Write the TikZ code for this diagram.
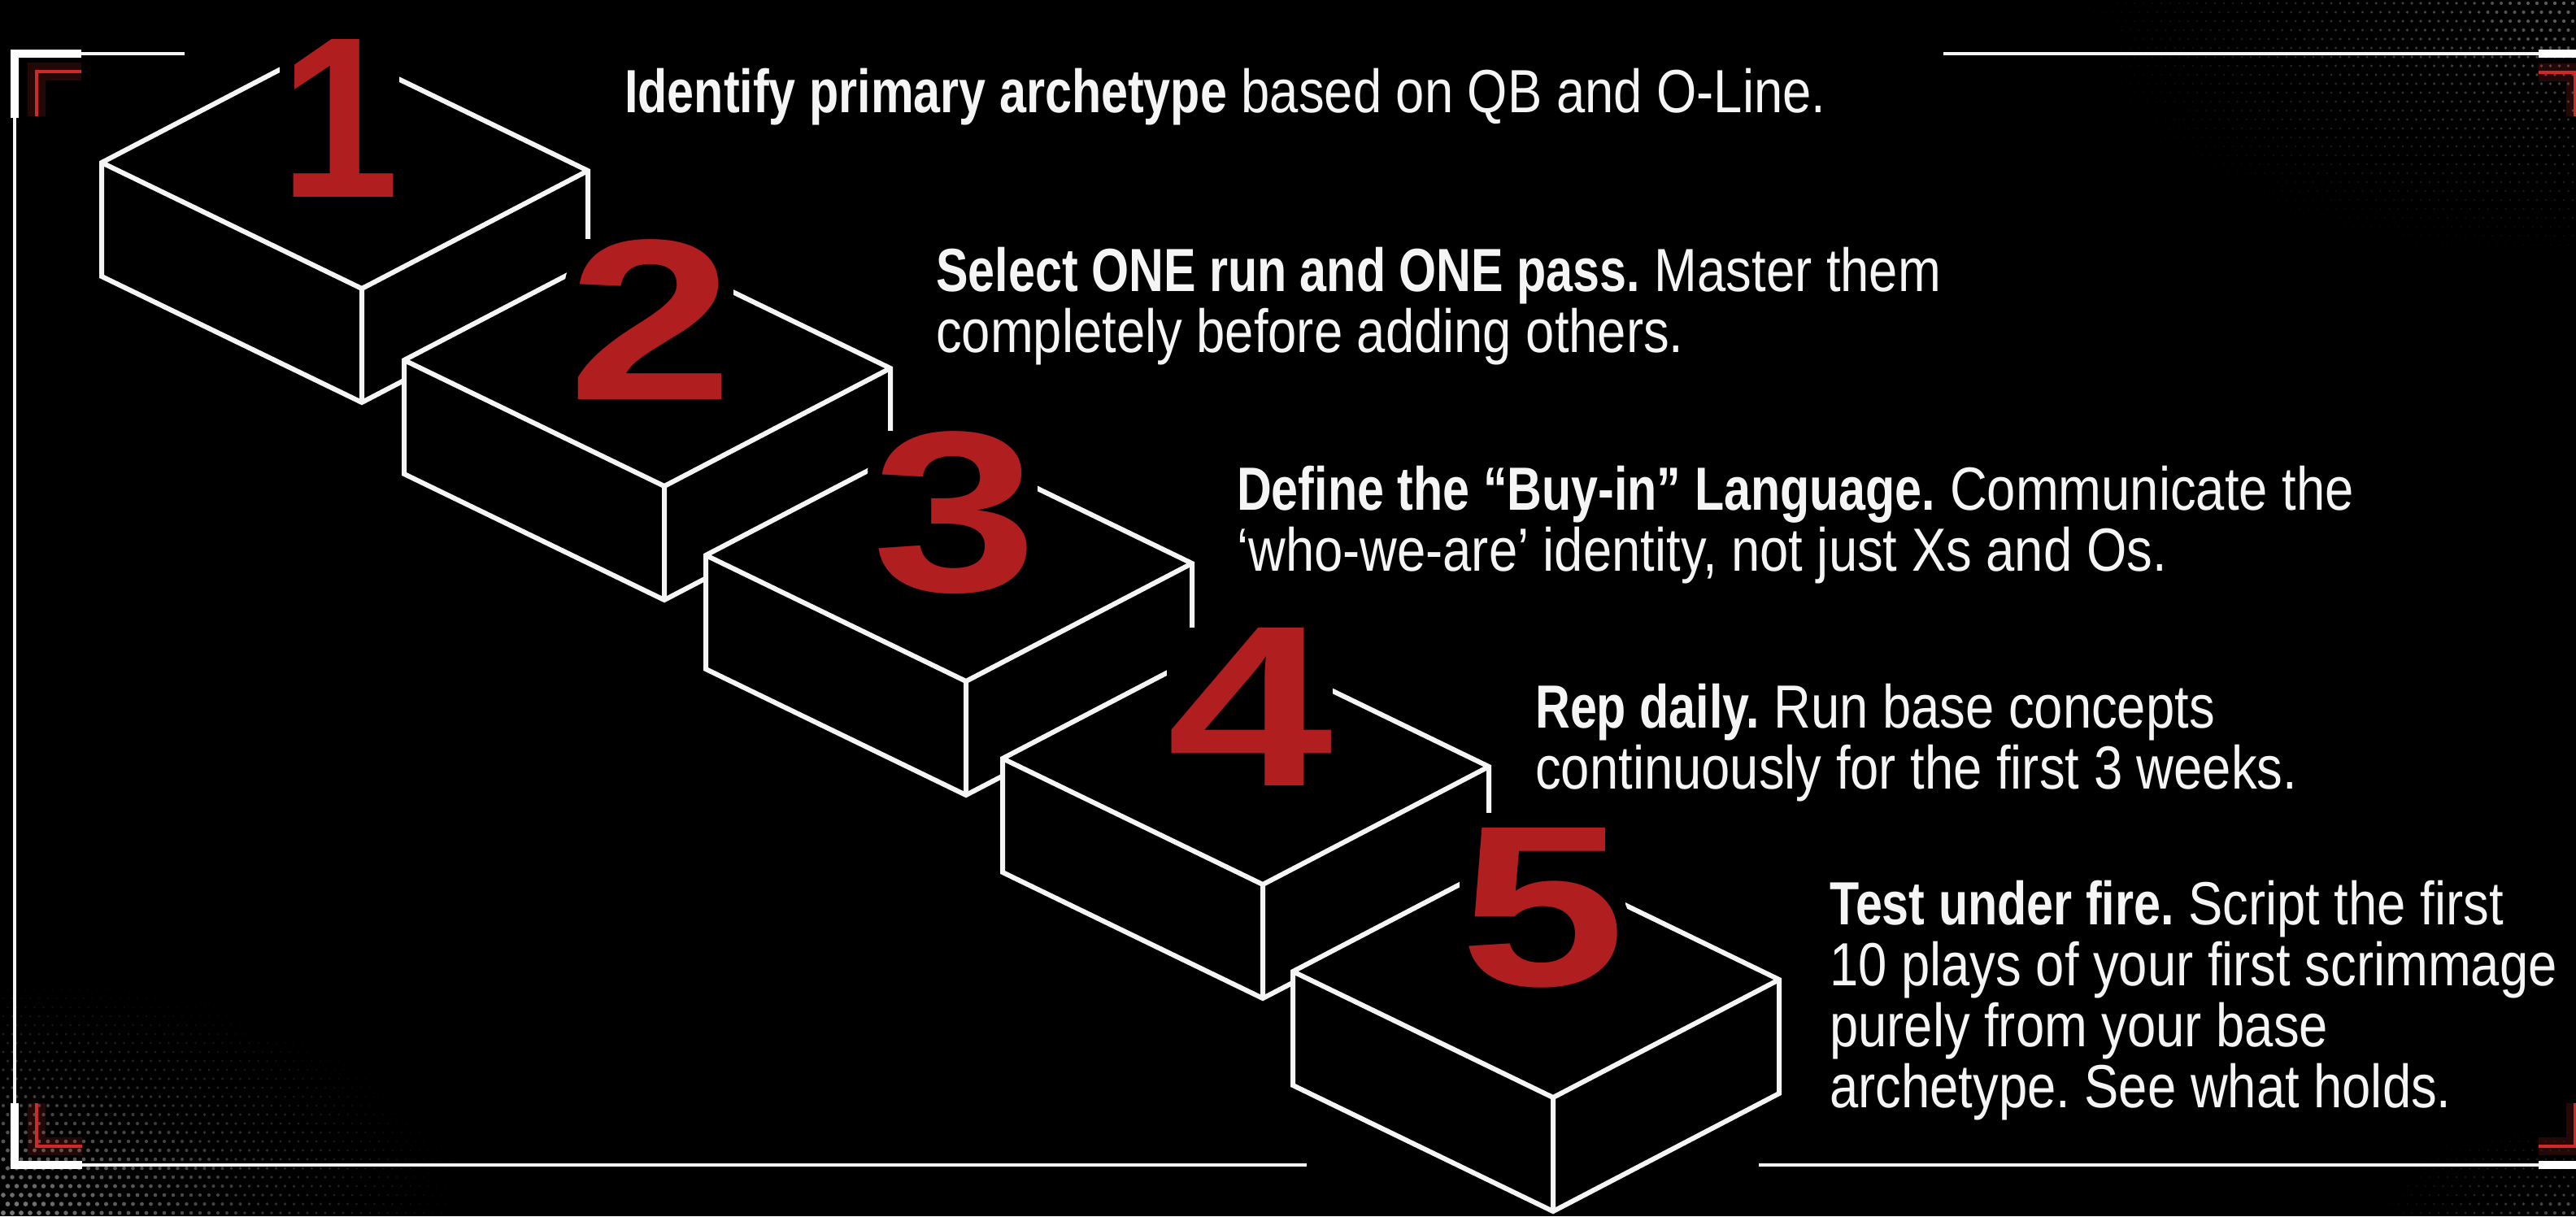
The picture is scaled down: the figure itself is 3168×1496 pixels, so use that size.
\documentclass[tikz,border=0pt]{standalone}
\usepackage{fontspec}
\setmainfont{Liberation Sans}[FakeStretch=0.845, BoldFeatures={FakeStretch=0.79}]
\newfontfamily\numfont{Liberation Sans}[FakeStretch=1.3]
\usepackage[copies]{contour}
\contourlength{18pt}
\contournumber{32}
\frenchspacing
\definecolor{numred}{RGB}{176,30,32}
\definecolor{framered}{RGB}{205,42,42}
\definecolor{ink}{RGB}{245,245,245}
\definecolor{dotgray}{RGB}{160,160,160}
\tikzstyle{txt}=[anchor=base west, inner sep=0pt, text=ink,
                 font=\fontsize{75}{75}\selectfont]
\tikzstyle{num}=[anchor=base, inner sep=0pt, text=numred, fill=black,
                 font={\numfont\bfseries\fontsize{282}{282}\selectfont}]
\tikzstyle{edge}=[draw=ink, fill=black, line width=6pt]
\tikzstyle{frame}=[draw=ink, line width=4.5pt]
\tikzstyle{framecap}=[draw=white, line width=10pt]
\tikzstyle{redmark}=[draw=framered, line width=4pt]
\tikzstyle{redglow}=[draw=framered, line width=22pt, opacity=.18]

\begin{document}
\begin{tikzpicture}[x=1pt, y=-1pt]
    \fill[black] (0,0) rectangle (3168,1496);
    \useasboundingbox (0,0) rectangle (3168,1496);
    \clip (0,0) rectangle (3168,1496);
    % halftone dots in the corners
    \foreach \i in {0,...,52}
      \foreach \j in {0,...,27} {
        \pgfmathsetmacro{\f}{max(0,1-veclen(\i/52,\j/27))}
        \fill[dotgray, opacity=.75*\f] ({4+\i*11+mod(\j,2)*5.5},{1492-\j*11})
          circle (1+2*\f);
      }
    \foreach \i in {0,...,56}
      \foreach \j in {0,...,30} {
        \pgfmathsetmacro{\f}{max(0,1-veclen(\i/56,\j/30))}
        \fill[dotgray, opacity=.6*\f] ({3164-\i*11-mod(\j,2)*5.5},{4+\j*11})
          circle (1+1.2*\f);
      }
    \foreach \i in {0,...,22}
      \foreach \j in {0,...,10} {
        \pgfmathsetmacro{\f}{max(0,1-veclen(\i/22,\j/10))}
        \fill[dotgray, opacity=.5*\f] ({3164-\i*11-mod(\j,2)*5.5},{1492-\j*11})
          circle (1+1.2*\f);
      }
    % frame
    \draw[redglow] (45,143) -- (45,88) -- (100,88);
    \draw[redglow] (45,1357) -- (45,1410) -- (101,1410);
    \draw[redglow] (3122,89) -- (3167,89) -- (3167,143);
    \draw[redglow] (3122,1410) -- (3167,1410) -- (3167,1357);
    \draw[frame] (227,66) -- (18,66) -- (18,1433) -- (1607,1433);
    \draw[frame] (2390,66) -- (3196,66) -- (3196,1433) -- (2163,1433);
    \draw[framecap] (18,145) -- (18,66) -- (100,66);
    \draw[framecap] (18,1357) -- (18,1433) -- (101,1433);
    \draw[framecap] (3122,66) -- (3196,66);
    \draw[framecap] (3122,1433) -- (3196,1433);
    \draw[redmark] (45,143) -- (45,88) -- (100,88);
    \draw[redmark] (45,1357) -- (45,1410) -- (101,1410);
    \draw[redmark] (3122,89) -- (3167,89) -- (3167,143);
    \draw[redmark] (3122,1410) -- (3167,1410) -- (3167,1357);
    % steps, back to front
    \foreach \n/\x/\y/\nx/\ny/\s in {1/125/200/418/242/.72, 2/497/443/800/491/1,
          3/868/683/1174/727/1, 4/1233/933/1537/966/1, 5/1590/1195/1897/1212/1} {
      \filldraw[edge] (\x,\y) coordinate (L\n) -- ++(278,-145) coordinate (B\n)
        -- ++(320,155) coordinate (R\n) -- ++(0,140) -- ++(-278,145)
        coordinate (G\n) -- ++(-320,-155) -- cycle;
      \draw[edge, fill=none] (L\n) -- ++(320,155) coordinate (F\n) -- (R\n)
        (F\n) -- (G\n);
      \node[num] (n\n) at (\nx,\ny) {\contour{black}{\scalebox{\s}[1]{\n}}};
    }
    % step texts
    \node[txt] (t1a) at (768,138) {\textbf{Identify primary archetype} based on QB and O-Line.};
    \node[txt] (t2a) at (1151,358) {\textbf{Select ONE run and ONE pass.} Master them};
    \node[txt] (t2b) at (1151,433) {completely before adding others.};
    \node[txt] (t3a) at (1521,627) {\textbf{Define the “Buy-in” Language.} Communicate the};
    \node[txt] (t3b) at (1521,702) {‘who-we-are’ identity, not just Xs and Os.};
    \node[txt] (t4a) at (1888,895) {\textbf{Rep daily.} Run base concepts};
    \node[txt] (t4b) at (1888,970) {continuously for the first 3 weeks.};
    \node[txt] (t5a) at (2250,1137) {\textbf{Test under fire.} Script the first};
    \node[txt] (t5b) at (2250,1212) {10 plays of your first scrimmage};
    \node[txt] (t5c) at (2250,1287) {purely from your base};
    \node[txt] (t5d) at (2250,1362) {archetype. See what holds.};
\end{tikzpicture}
\end{document}
